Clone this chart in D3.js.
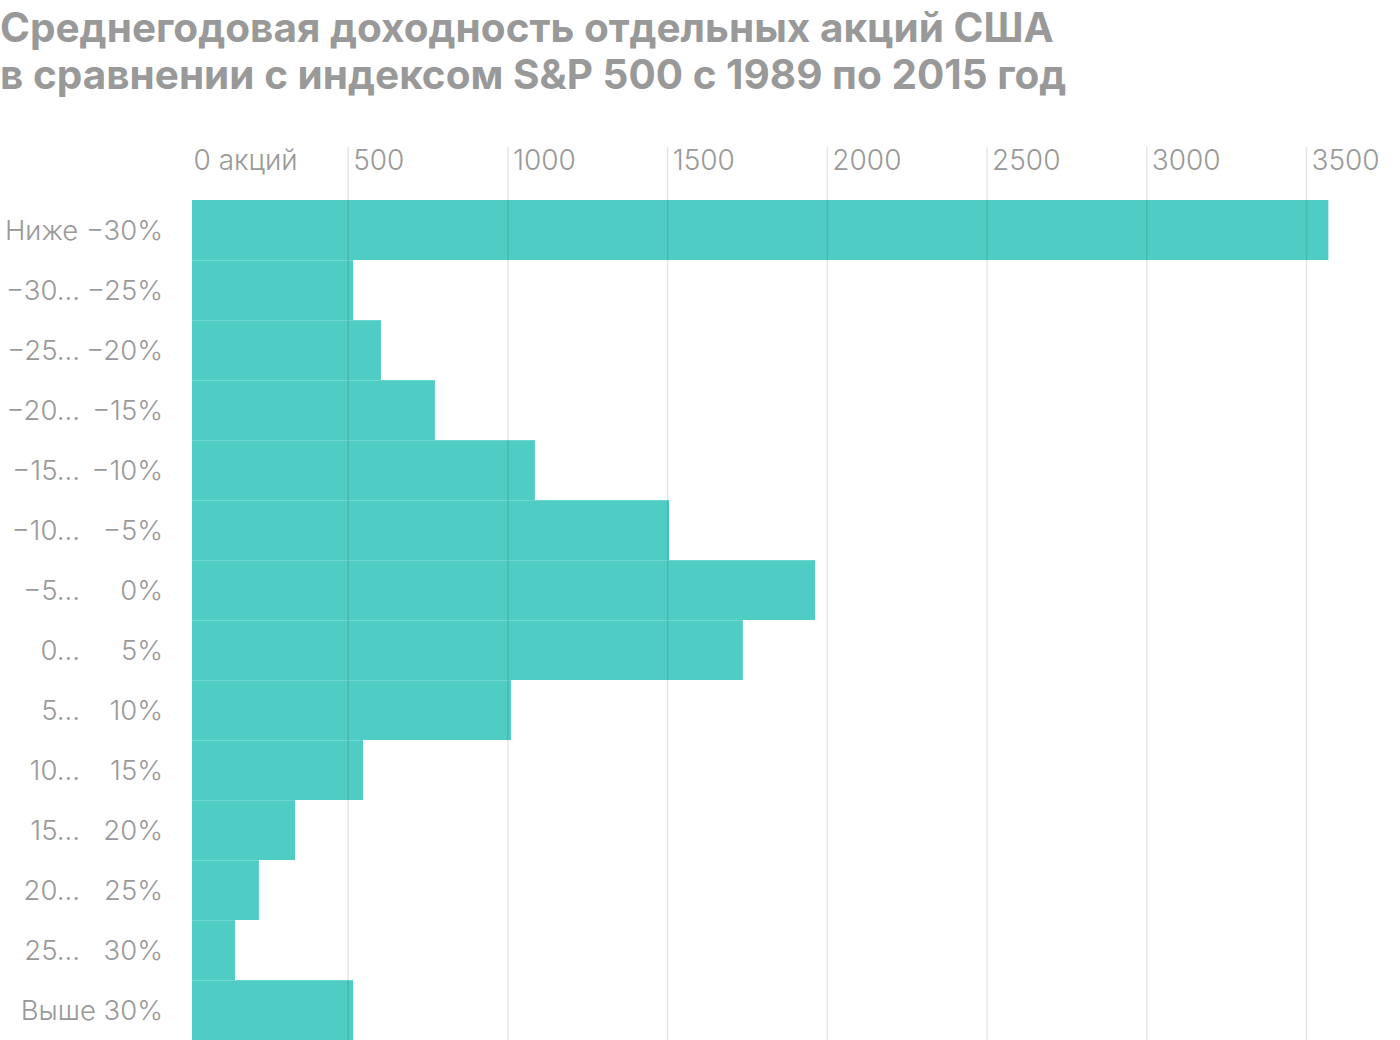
<!DOCTYPE html>
<html><head><meta charset="utf-8">
<script src="https://cdn.jsdelivr.net/npm/d3@7/dist/d3.min.js"></script>
<style>
html,body{margin:0;padding:0;background:#fff;}
svg{display:block;}
</style></head>
<body>
<script>
const titleLines = ["Среднегодовая доходность отдельных акций США","в сравнении с индексом S&P 500 с 1989 по 2015 год"];
const categoriesFrom = ["Ниже","−30...","−25...","−20...","−15...","−10...","−5...","0...","5...","10...","15...","20...","25...","Выше"];
const categoriesTo = ["−30%","−25%","−20%","−15%","−10%","−5%","0%","5%","10%","15%","20%","25%","30%","30%"];
const values = [3570, 517, 604, 773, 1086, 1506, 1963, 1737, 1011, 548, 335, 222, 147, 517];
const tickValues = [0, 500, 1000, 1500, 2000, 2500, 3000, 3500];
const tickLabels = ["0 акций", "500", "1000", "1500", "2000", "2500", "3000", "3500"];

const W = 1400, H = 1040;
const svg = d3.select("body").append("svg").attr("width", W).attr("height", H);
const font = "Inter, Roboto, 'Liberation Sans', sans-serif";

// Title
svg.append("g").selectAll("text").data(titleLines).join("text")
  .attr("x", 0).attr("y", (d,i) => 42 + i*47)
  .attr("font-family", font).attr("font-weight", 700).attr("font-size", 40.5)
  .attr("fill", "#999").text(d => d);

const x = d3.scaleLinear().domain([0, 3500]).range([188, 1306]);
const cats = values.map((v,i) => i);
const y = d3.scaleBand().domain(cats).range([200, 1040]).padding(0);

// Bars
svg.append("g").selectAll("rect").data(values).join("rect")
  .attr("x", x(0) + 4).attr("y", (d,i) => y(i))
  .attr("width", d => x(d) - x(0) - 4).attr("height", y.bandwidth())
  .attr("fill", "#4fcdc4");
// separators
svg.append("g").selectAll("line").data(values.slice(1)).join("line")
  .attr("x1", x(0) + 4).attr("x2", (d,i) => Math.max(x(d), x(values[i])))
  .attr("y1", (d,i) => y(i+1) + 0.5).attr("y2", (d,i) => y(i+1) + 0.5)
  .attr("stroke", "rgba(255,255,255,0.18)").attr("stroke-width", 1);

// Axis
const axis = d3.axisTop(x).tickValues(tickValues).tickSize(0)
  .tickFormat((d,i) => tickLabels[i]);
const ag = svg.append("g").call(axis);
ag.select(".domain").remove();
ag.selectAll(".tick text").attr("text-anchor", "start").attr("x", 5).attr("y", 170).attr("dy", 0)
  .attr("font-family", font).attr("font-weight", 300).attr("font-size", 28).attr("fill", "#999");
ag.selectAll(".tick").append("line")
  .attr("y1", 147).attr("y2", H)
  .attr("stroke", d => d === 0 ? "none" : "rgba(0,0,0,0.1)").attr("stroke-width", 1.5);

// Category labels
const lg = svg.append("g");
lg.selectAll("text.to").data(categoriesTo).join("text")
  .attr("class","to")
  .attr("x", 163).attr("y", (d,i) => y(i) + y.bandwidth()/2 + 10)
  .attr("text-anchor", "end")
  .attr("font-family", font).attr("font-weight", 300).attr("font-size", 27.5).attr("fill", "#999")
  .text((d,i) => (i === 0 || i === categoriesTo.length-1) ? categoriesFrom[i] + " " + d : d);
lg.selectAll("text.from").data(categoriesFrom).join("text")
  .attr("class","from")
  .attr("x", 80).attr("y", (d,i) => y(i) + y.bandwidth()/2 + 10)
  .attr("text-anchor", "end")
  .attr("font-family", font).attr("font-weight", 300).attr("font-size", 27.5).attr("fill", "#999")
  .text((d,i) => (i === 0 || i === categoriesFrom.length-1) ? "" : d);
</script>
</body></html>
